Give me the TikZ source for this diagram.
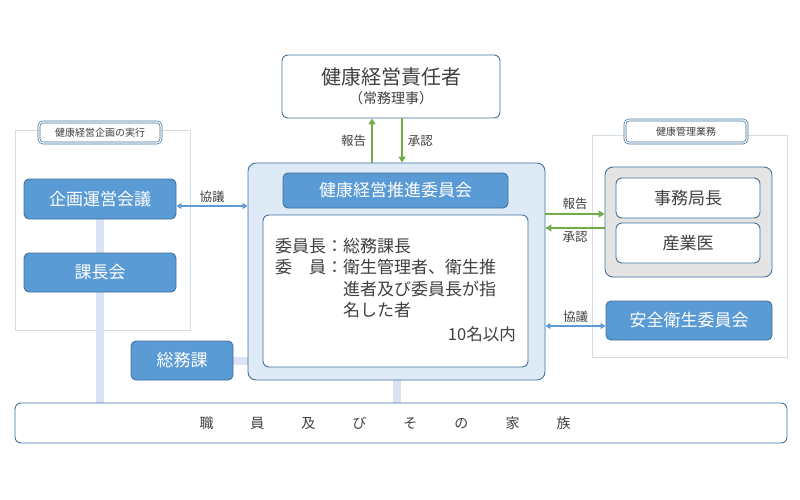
\documentclass[tikz,border=0pt]{standalone}
\usepackage{fontspec}
\setmainfont{Noto Sans CJK JP}
\usepackage{tikz}
\usetikzlibrary{arrows.meta,positioning,backgrounds}
\definecolor{edge}{HTML}{41719C}
\definecolor{blue}{HTML}{5B9BD5}
\definecolor{lightblue}{HTML}{DEEBF7}
\definecolor{barblue}{HTML}{DAE3F3}
\definecolor{green}{HTML}{70AD47}
\definecolor{framegray}{HTML}{D6DCE5}
\definecolor{boxgray}{HTML}{E4E4E4}
\definecolor{ink}{HTML}{404040}
\newcommand{\fs}[1]{\fontsize{#1}{#1}\selectfont}
\newcommand{\famgap}{\hspace{37pt}}

\begin{document}
\begin{tikzpicture}[x=1pt,y=-1pt,every node/.style={text=ink,inner sep=0pt},
  whitebox/.style={draw=edge,line width=0.9pt,rounded corners=6pt,fill=white},
  bluebox/.style={draw=edge,line width=0.9pt,rounded corners=5pt,fill=blue,text=white,font=\fs{17}},
  tagbox/.style={draw=edge,double=white,double distance=1.2pt,line width=0.7pt,rounded corners=4pt,fill=white,font=\fs{10}},
  frm/.style={draw=framegray,line width=0.6pt},
  bar/.style={draw=barblue,line width=8pt},
  garrow/.style={draw=green,line width=1.8pt,-{Triangle[width=7pt,length=6pt]}},
  barrow/.style={draw=blue,line width=1.5pt,{Triangle[width=6pt,length=5pt]}-{Triangle[width=6pt,length=5pt]}},
  lbl/.style={font=\fs{12.5}}]
\useasboundingbox (0,0) rectangle (800,500);
% top
\node[whitebox,minimum width=218,minimum height=63,align=center] (head) at (391,86.5)
  {{\fontsize{20}{23}\selectfont 健康経営責任者}\\[4pt]{\fontsize{14}{18}\selectfont （常務理事）}};
% committee
\node[draw=edge,line width=0.9pt,fill=lightblue,rounded corners=8pt,minimum width=297,minimum height=217] (cmte) at (396.5,271.5) {};
\node[bluebox,minimum width=225,minimum height=35] (cmtitle) at (395.5,190.5) {健康経営推進委員会};
\node[whitebox,minimum width=265,minimum height=152] (members) at (395.5,291) {};
\node[anchor=north west,font=\fontsize{17}{21.5}\selectfont] (roster) at (275,237)
  {\begin{tabular}{@{}l@{}l@{}}委員長：&総務課長\\委　員：&衛生管理者、衛生推\\&進者及び委員長が指\\&名した者\end{tabular}};
\node[anchor=east,font=\fs{16.5}] (limit) at (516,334) {10名以内};
% left group
\node[tagbox,minimum width=122,minimum height=21] (plantag) at (100,132.5) {健康経営企画の実行};
\node[bluebox,minimum width=152,minimum height=40] (kikaku) at (100,199) {企画運営会議};
\node[bluebox,minimum width=152,minimum height=39] (kacho) at (100,272.5) {課長会};
\node[bluebox,minimum width=102,minimum height=39] (somu) at (182,360.5) {総務課};
% right group
\node[tagbox,minimum width=122,minimum height=23] (caretag) at (686,131.5) {健康管理業務};
\node[draw=edge,line width=0.9pt,fill=boxgray,rounded corners=8pt,minimum width=167,minimum height=110] (staff) at (688.5,222) {};
\node[whitebox,minimum width=144,minimum height=40,font=\fs{17}] (jimu) at (688,198) {事務局長};
\node[whitebox,minimum width=144,minimum height=40,font=\fs{17}] (sangyo) at (688,243) {産業医};
\node[bluebox,minimum width=166,minimum height=39] (anzen) at (689,320.5) {安全衛生委員会};
% bottom
\node[whitebox,minimum width=772,minimum height=40,font=\fs{14}] (family) at (401,423)
  {職\famgap 員\famgap 及\famgap び\famgap そ\famgap の\famgap 家\famgap 族\kern32pt\relax};
% arrows
\draw[garrow] ([xshift=-19pt]head.south |- cmte.north) -- ([xshift=-19pt]head.south) node[midway,left=5pt,lbl] {報告};
\draw[garrow] ([xshift=11pt]head.south) -- ([xshift=11pt]head.south |- cmte.north) node[midway,right=5pt,lbl] {承認};
\coordinate (rpt) at ([yshift=8pt]staff.west);
\coordinate (apv) at ([yshift=-6pt]staff.west);
\draw[garrow] (cmte.east |- rpt) -- (rpt) node[midway,above=3pt,lbl] {報告};
\draw[garrow] (apv) -- (apv -| cmte.east) node[midway,below=3pt,lbl] {承認};
\coordinate (cl) at ([yshift=-7pt]kikaku.east);
\draw[barrow] (cl) -- (cl -| cmte.west) node[midway,above=3pt,lbl] {協議};
\coordinate (cr) at ([yshift=-5.5pt]anzen.west);
\draw[barrow] (cr -| cmte.east) -- (cr) node[midway,above=3pt,lbl] {協議};
\begin{scope}[on background layer]
\node[frm,minimum width=175,minimum height=200] (planfrm) at (102.5,230) {};
\node[frm,minimum width=195,minimum height=222] (carefrm) at (689.5,246) {};
\draw[bar] (kikaku.south) -- (kikaku.south |- family.north);
\draw[bar] (somu.east) -- (somu.east -| cmte.west);
\draw[bar] (cmte.south) -- (cmte.south |- family.north);
\end{scope}
\end{tikzpicture}
\end{document}
